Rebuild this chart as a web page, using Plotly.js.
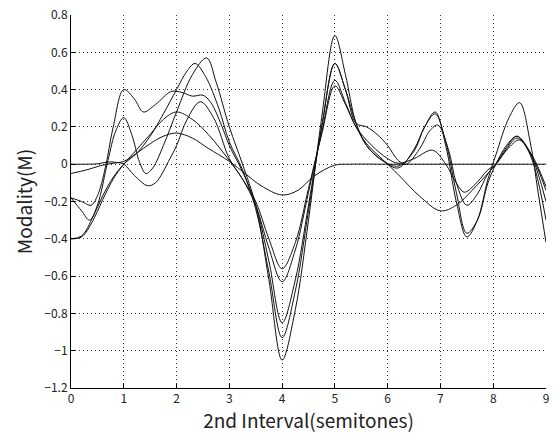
<!DOCTYPE html>
<html>
<head>
<meta charset="utf-8">
<script src="https://cdn.plot.ly/plotly-3.0.1.min.js"></script>
<style>html,body{margin:0;padding:0;background:#fff;}#chart{width:554px;height:434px;}</style>
</head>
<body>
<div id="chart"></div>
<script>
// Curve A (smooth, flat after 5)
const xA = [0, 0.3, 0.6, 0.8, 1.0, 1.25, 1.5, 1.75, 2.0, 2.3, 2.6, 3.0, 3.3, 3.6, 4.0, 4.3, 4.6, 5.0, 5.3, 6, 7, 8, 9];
const yA = [-0.05, -0.03, -0.005, 0.005, 0.015, 0.06, 0.11, 0.15, 0.167, 0.14, 0.085, 0.015, -0.05, -0.115, -0.165, -0.14, -0.065, -0.005, 0, 0, 0, 0, 0];
// Curve B
const xB = [0, 0.2, 0.42, 0.6, 0.8, 1.0, 1.25, 1.5, 1.75, 2.0, 2.3, 2.6, 3.0, 3.25, 3.5, 3.75, 4.0, 4.25, 4.5, 4.75, 5.0, 5.2, 5.4, 5.6, 6.0, 6.25, 6.6, 7.0, 7.3, 7.6, 8.05, 8.3, 8.5, 8.75, 9];
const yB = [-0.4, -0.39, -0.3, -0.19, -0.08, 0.0, 0.08, 0.16, 0.24, 0.28, 0.24, 0.16, 0.02, -0.08, -0.2, -0.4, -0.56, -0.42, -0.13, 0.16, 0.42, 0.32, 0.2, 0.11, 0.0, -0.07, -0.17, -0.25, -0.22, -0.14, 0.0, 0.09, 0.13, 0.04, -0.12];
// Curve C
const xC = [0, 0.2, 0.38, 0.5, 0.65, 0.8, 1.0, 1.2, 1.37, 1.6, 1.9, 2.1, 2.3, 2.5, 2.65, 2.85, 3.0, 3.25, 3.5, 3.75, 4.0, 4.25, 4.5, 4.75, 5.0, 5.2, 5.4, 5.6, 5.8, 6.0, 6.2, 6.35, 6.6, 6.8, 6.95, 7.15, 7.3, 7.5, 7.7, 7.9, 8.05, 8.25, 8.45, 8.7, 9];
const yC = [-0.18, -0.2, -0.22, -0.17, -0.02, 0.2, 0.4, 0.35, 0.28, 0.32, 0.39, 0.385, 0.365, 0.37, 0.33, 0.21, 0.1, -0.04, -0.22, -0.52, -0.85, -0.62, -0.22, 0.2, 0.54, 0.4, 0.22, 0.2, 0.16, 0.1, 0.02, 0.0, 0.08, 0.18, 0.21, 0.08, -0.1, -0.22, -0.16, -0.05, 0.0, 0.09, 0.15, 0.06, -0.2];
// Curve D
const xD = [0, 0.25, 0.5, 0.7, 0.85, 1.0, 1.2, 1.45, 1.6, 1.875, 2.0, 2.2, 2.45, 2.7, 3.0, 3.25, 3.5, 3.75, 4.0, 4.25, 4.5, 4.75, 5.0, 5.2, 5.4, 5.7, 6.0, 6.2, 6.5, 6.85, 7.1, 7.3, 7.45, 7.65, 7.9, 8.05, 8.25, 8.45, 8.7, 9];
const yD = [0, 0, 0.002, 0.012, 0.01, 0.0, -0.06, -0.115, -0.1, 0.03, 0.1, 0.24, 0.335, 0.25, 0.03, -0.08, -0.22, -0.45, -0.63, -0.46, -0.15, 0.17, 0.45, 0.33, 0.2, 0.1, 0.03, 0.005, 0.03, 0.075, 0.0, -0.1, -0.15, -0.11, -0.03, 0.0, 0.08, 0.14, 0.06, -0.14];
// Curve E
const xE = [0, 0.2, 0.42, 0.6, 0.8, 1.0, 1.25, 1.5, 1.75, 2.0, 2.2, 2.35, 2.55, 2.8, 3.0, 3.25, 3.5, 3.75, 4.0, 4.25, 4.5, 4.75, 5.0, 5.2, 5.4, 5.6, 5.9, 6.2, 6.5, 6.7, 6.9, 7.1, 7.3, 7.5, 7.7, 7.9, 8.05, 8.25, 8.45, 8.7, 9];
const yE = [-0.4, -0.385, -0.28, -0.17, -0.07, 0.0, 0.06, 0.15, 0.27, 0.4, 0.5, 0.54, 0.47, 0.3, 0.12, -0.03, -0.24, -0.58, -0.93, -0.68, -0.25, 0.2, 0.54, 0.4, 0.22, 0.1, 0.02, -0.01, 0.07, 0.2, 0.27, 0.12, -0.15, -0.37, -0.3, -0.1, 0.0, 0.1, 0.15, 0.05, -0.3];
// Curve F (largest amplitude)
const xF = [0, 0.2, 0.35, 0.5, 0.7, 0.85, 1.0, 1.15, 1.3, 1.42, 1.55, 1.75, 2.0, 2.3, 2.57, 2.75, 3.0, 3.25, 3.5, 3.75, 4.0, 4.25, 4.5, 4.75, 5.0, 5.2, 5.4, 5.6, 5.9, 6.2, 6.5, 6.7, 6.9, 7.1, 7.3, 7.5, 7.7, 7.9, 8.05, 8.3, 8.5, 8.7, 8.85, 9];
const yF = [-0.18, -0.25, -0.3, -0.22, 0.02, 0.18, 0.25, 0.16, 0.01, -0.05, -0.02, 0.1, 0.28, 0.48, 0.57, 0.44, 0.2, 0.0, -0.22, -0.62, -1.05, -0.78, -0.3, 0.25, 0.69, 0.48, 0.22, 0.1, 0.02, -0.02, 0.08, 0.2, 0.28, 0.1, -0.2, -0.39, -0.3, -0.08, 0.05, 0.25, 0.33, 0.12, -0.15, -0.42];

const xTicks = [0, 1, 2, 3, 4, 5, 6, 7, 8, 9];
const yTicks = [-1.2, -1, -0.8, -0.6, -0.4, -0.2, 0, 0.2, 0.4, 0.6, 0.8];
const yTickText = ['\u22121.2', '\u22121', '\u22120.8', '\u22120.6', '\u22120.4', '\u22120.2', '0', '0.2', '0.4', '0.6', '0.8'];

const series = [[xA, yA], [xB, yB], [xC, yC], [xD, yD], [xE, yE], [xF, yF]];
const traces = series.map(([x, y]) => ({
  x: x, y: y, type: 'scatter', mode: 'lines',
  line: {color: '#111', width: 1, shape: 'spline', smoothing: 1},
  hoverinfo: 'skip', showlegend: false
}));

const tickFont = {family: '"Noto Sans CJK JP", "DejaVu Sans", sans-serif', size: 12, color: '#222'};
const titleFont = {family: '"Noto Sans CJK JP", "DejaVu Sans", sans-serif', size: 19, color: '#222'};

const layout = {
  width: 554, height: 434,
  margin: {l: 71, r: 8, t: 15, b: 46},
  paper_bgcolor: '#fff', plot_bgcolor: '#fff',
  showlegend: false,
  xaxis: {
    range: [0, 9], tickvals: xTicks, ticktext: xTicks.map(String),
    showgrid: true, gridcolor: '#333', griddash: '1px,3px', gridwidth: 1,
    zeroline: false, showline: true, linecolor: '#000', linewidth: 1,
    ticks: 'inside', ticklen: 4, tickcolor: '#000',
    tickfont: tickFont,
    title: {text: '2nd Interval(semitones)', font: titleFont, standoff: 5}
  },
  yaxis: {
    range: [-1.2, 0.8], tickvals: yTicks, ticktext: yTickText,
    showgrid: true, gridcolor: '#333', griddash: '1px,3px', gridwidth: 1,
    zeroline: false, showline: true, linecolor: '#000', linewidth: 1,
    ticks: 'inside', ticklen: 4, tickcolor: '#000',
    tickfont: tickFont,
    title: {text: 'Modality(M)', font: titleFont, standoff: 6}
  }
};

Plotly.newPlot('chart', traces, layout, {staticPlot: true, displayModeBar: false});
</script>
</body>
</html>
